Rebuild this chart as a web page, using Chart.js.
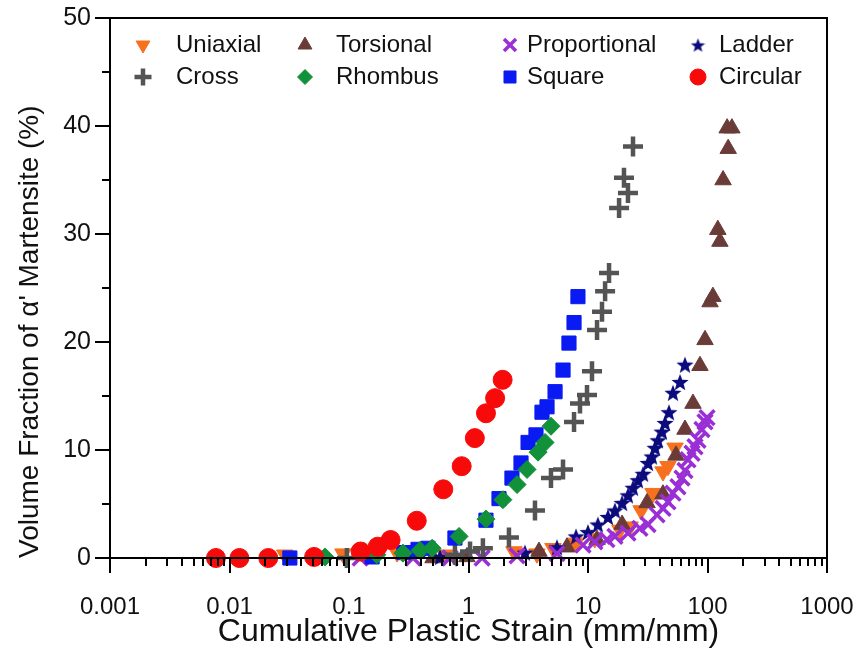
<!DOCTYPE html>
<html><head><meta charset="utf-8">
<script src="https://cdn.jsdelivr.net/npm/chart.js@4.4.1/dist/chart.umd.min.js"></script>
<style>html,body{margin:0;padding:0;background:#fff}#wrap{width:859px;height:653px;position:relative}</style>
</head><body><div id="wrap"><canvas id="c" width="859" height="653"></canvas></div>
<script>
// ---- axis ticks ----
const xMajorTicks = [0.001, 0.01, 0.1, 1, 10, 100, 1000];
const xTickLabels = ['0.001', '0.01', '0.1', '1', '10', '100', '1000'];
const yMajorTicks = [0, 10, 20, 30, 40, 50];
const yTickLabels = ['0', '10', '20', '30', '40', '50'];
const yMinorTicks = [5, 15, 25, 35, 45];
const xMinorMultipliers = [2, 3, 4, 5, 6, 7, 8, 9];

// ---- series ----
const uniaxialX = [0.029, 0.089, 0.252, 0.635, 2.40, 3.74, 5.09, 7.9, 11.4, 18.5, 22.5, 27.8, 35.0, 42.4, 46.7, 53.5];
const uniaxialY = [0.3, 0.4, 0.5, 0.3, 0.6, 0.4, 0.9, 1.4, 1.8, 2.6, 2.9, 4.4, 6.0, 8.0, 8.5, 10.2];

const torsionalX = [0.505, 0.97, 3.89, 6.67, 11.9, 19.3, 31.2, 42.4, 54.5, 64.8, 75.6, 86.5, 95.3, 105, 111, 122, 127, 135, 146, 149, 160];
const torsionalY = [0, 0.1, 0.6, 1.0, 1.7, 3.1, 5.1, 5.9, 9.5, 11.9, 14.3, 17.8, 20.2, 23.7, 24.2, 30.4, 29.3, 35.0, 39.8, 37.9, 39.8];

const proportionalX = [0.124, 0.344, 0.70, 1.30, 2.55, 5.50, 9.08, 11.4, 14.4, 16.8, 21.6, 27.2, 31.8, 37.8, 42.4, 46.7, 51.4, 56.6, 61.2, 64.8, 68.7, 74.2, 78.6, 83.3, 89.9, 95.3, 99.1];
const proportionalY = [0, 0, 0, 0, 0.2, 0.4, 1.2, 1.5, 1.7, 2.0, 2.3, 2.75, 3.1, 4.0, 4.6, 5.2, 6.0, 6.6, 7.4, 8.1, 9.1, 9.7, 10.3, 10.9, 11.9, 12.6, 13.0];

const ladderX = [0.578, 2.97, 5.50, 7.94, 10.0, 12.1, 14.7, 16.8, 19.3, 21.6, 23.8, 26.2, 28.9, 31.8, 34.3, 36.4, 38.5, 41.6, 44.1, 47.6, 51.4, 58.9, 64.8];
const ladderY = [0.1, 0.5, 1.0, 2.0, 2.4, 3.1, 3.8, 4.4, 5.1, 5.8, 6.5, 7.2, 7.8, 8.8, 9.4, 10.2, 10.9, 11.7, 12.5, 13.5, 15.3, 16.3, 17.9];

const crossX = [0.096, 0.77, 1.03, 1.32, 2.18, 3.60, 4.90, 6.18, 7.64, 8.57, 9.81, 10.8, 11.9, 13.1, 13.9, 15.0, 18.2, 20.0, 21.6, 23.8];
const crossY = [0, 0.3, 0.6, 0.9, 1.9, 4.4, 7.4, 8.2, 12.6, 14.3, 15.1, 17.3, 21.1, 22.8, 24.7, 26.4, 32.4, 35.2, 33.8, 38.1];

const rhombusX = [0.063, 0.171, 0.283, 0.393, 0.496, 0.834, 1.40, 1.94, 2.55, 3.09, 3.82, 4.37, 4.90];
const rhombusY = [0.1, 0.3, 0.45, 0.7, 0.9, 2.0, 3.6, 5.4, 6.8, 8.2, 9.8, 10.7, 12.2];

const squareX = [0.032, 0.156, 0.288, 0.378, 0.458, 0.77, 1.40, 1.80, 2.31, 2.75, 3.15, 3.67, 4.12, 4.54, 5.30, 6.18, 6.93, 7.64, 8.24];
const squareY = [0, 0.1, 0.5, 0.8, 0.9, 1.85, 3.5, 5.5, 7.4, 8.8, 10.7, 11.4, 13.5, 14.0, 15.4, 17.4, 19.9, 21.8, 24.2];

const circularX = [0.0077, 0.0121, 0.0211, 0.051, 0.125, 0.174, 0.223, 0.369, 0.615, 0.877, 1.13, 1.40, 1.67, 1.93];
const circularY = [0, 0, 0, 0.1, 0.6, 1.05, 1.67, 3.45, 6.36, 8.5, 11.1, 13.4, 14.8, 16.5];

// ---- helpers ----
function pts(xs, ys) { return xs.map((x, i) => ({ x: x, y: ys[i] })); }

function makeStar(size, color) {
  const c = document.createElement('canvas');
  c.width = size; c.height = size;
  const g = c.getContext('2d');
  const cx = size / 2, cy = size / 2 + size * 0.05, R = size / 2, r = R * 0.42;
  g.beginPath();
  for (let i = 0; i < 10; i++) {
    const a = -Math.PI / 2 + i * Math.PI / 5;
    const rr = i % 2 === 0 ? R : r;
    const px = cx + rr * Math.cos(a), py = cy + rr * Math.sin(a);
    if (i === 0) g.moveTo(px, py); else g.lineTo(px, py);
  }
  g.closePath();
  g.fillStyle = color; g.fill();
  return c;
}

const FONT = "'Liberation Sans', Arial, sans-serif";
const C = {
  uni: '#F7701E', tor: '#6A3B37', pro: '#9A2FD6', lad: '#0B0B7D',
  cro: '#545454', rho: '#11913A', squ: '#0A1AF2', cir: '#F80A0A'
};
const starImg = makeStar(18, C.lad);
const starLegend = makeStar(15, C.lad);

const dsUniaxial = { label: 'Uniaxial', data: pts(uniaxialX, uniaxialY), pointStyle: 'triangle', rotation: 180, radius: 9.5, backgroundColor: C.uni, borderColor: C.uni, borderWidth: 1, order: 8 };
const dsTorsional = { label: 'Torsional', data: pts(torsionalX, torsionalY), pointStyle: 'triangle', rotation: 0, radius: 9.5, backgroundColor: C.tor, borderColor: C.tor, borderWidth: 1, order: 7 };
const dsProportional = { label: 'Proportional', data: pts(proportionalX, proportionalY), pointStyle: 'crossRot', radius: 10.5, backgroundColor: C.pro, borderColor: C.pro, borderWidth: 3.5, order: 5 };
const dsLadder = { label: 'Ladder', data: pts(ladderX, ladderY), pointStyle: starImg, radius: 9, backgroundColor: C.lad, borderColor: C.lad, borderWidth: 1, order: 6 };
const dsCross = { label: 'Cross', data: pts(crossX, crossY), pointStyle: 'cross', radius: 10, backgroundColor: C.cro, borderColor: C.cro, borderWidth: 4.5, order: 4 };
const dsRhombus = { label: 'Rhombus', data: pts(rhombusX, rhombusY), pointStyle: 'rectRot', radius: 9, backgroundColor: C.rho, borderColor: C.rho, borderWidth: 1, order: 2 };
const dsSquare = { label: 'Square', data: pts(squareX, squareY), pointStyle: 'rect', radius: 10, backgroundColor: C.squ, borderColor: C.squ, borderWidth: 1, order: 3 };
const dsCircular = { label: 'Circular', data: pts(circularX, circularY), pointStyle: 'circle', radius: 9.5, backgroundColor: C.cir, borderColor: C.cir, borderWidth: 1, order: 1 };

const datasets = [dsUniaxial, dsTorsional, dsProportional, dsLadder, dsCross, dsRhombus, dsSquare, dsCircular];
datasets.forEach(d => {
  d.clip = false; d.pointRadius = d.radius; d.pointHoverRadius = d.radius;
  d.pointRotation = d.rotation || 0; d.showLine = false;
});

// legend layout: column x of marker, row y
const legendCols = [143, 305, 510, 698];
const legendRows = [45, 77];
const legendTextGap = [33, 31, 17, 21];
const legendMarkerRadius = [8, 8, 8.5, 0, 8.5, 7.5, 8.5, 8];

const framePlugin = {
  id: 'frameTicks',
  afterDraw(chart) {
    const ctx = chart.ctx, a = chart.chartArea;
    const xs = chart.scales.x, ys = chart.scales.y;
    ctx.save();
    ctx.strokeStyle = '#000';
    ctx.lineWidth = 2;
    ctx.strokeRect(a.left, a.top, a.right - a.left, a.bottom - a.top);
    ctx.beginPath();
    xMajorTicks.forEach(v => { const p = Math.round(xs.getPixelForValue(v)); ctx.moveTo(p, a.bottom); ctx.lineTo(p, a.bottom + 15); });
    for (let i = 0; i < xMajorTicks.length - 1; i++) {
      xMinorMultipliers.forEach(m => { const p = Math.round(xs.getPixelForValue(xMajorTicks[i] * m)); ctx.moveTo(p, a.bottom); ctx.lineTo(p, a.bottom + 8); });
    }
    yMajorTicks.forEach(v => { const p = Math.round(ys.getPixelForValue(v)); ctx.moveTo(a.left, p); ctx.lineTo(a.left - 15, p); });
    yMinorTicks.forEach(v => { const p = Math.round(ys.getPixelForValue(v)); ctx.moveTo(a.left, p); ctx.lineTo(a.left - 8, p); });
    ctx.stroke();

    // legend
    datasets.forEach((d, i) => {
      const col = i % 4, row = Math.floor(i / 4);
      const x = legendCols[col], y = legendRows[row];
      ctx.fillStyle = d.backgroundColor; ctx.strokeStyle = d.borderColor; ctx.lineWidth = d.borderWidth || 1;
      if (d.pointStyle === starImg) {
        ctx.drawImage(starLegend, x - starLegend.width / 2, y - starLegend.height / 2);
      } else {
        Chart.helpers.drawPoint(ctx, { pointStyle: d.pointStyle, rotation: d.rotation || 0, radius: legendMarkerRadius[i], borderWidth: d.borderWidth || 1 }, x, y);
      }
      ctx.fillStyle = '#111';
      ctx.font = '24px ' + FONT;
      ctx.textBaseline = 'middle';
      ctx.textAlign = 'left';
      ctx.fillText(d.label, x + legendTextGap[col], y);
    });
    ctx.restore();
  }
};

new Chart(document.getElementById('c'), {
  type: 'scatter',
  data: { datasets: datasets },
  plugins: [framePlugin],
  options: {
    responsive: false,
    animation: false,
    devicePixelRatio: 1,
    layout: { padding: { left: 13, right: 32, top: 18, bottom: 2 } },
    plugins: { legend: { display: false }, tooltip: { enabled: false } },
    scales: {
      x: {
        type: 'logarithmic', min: 0.001, max: 1000,
        afterBuildTicks: s => { s.ticks = xMajorTicks.map(v => ({ value: v, major: true })); },
        afterFit: s => { s.height = 653 - 558 - 2; s.paddingLeft = 0; s.paddingRight = 0; },
        grid: { display: false, drawTicks: true, tickLength: 15 },
        border: { display: false },
        ticks: { autoSkip: false, maxRotation: 0, padding: 20, color: '#111', font: { family: FONT, size: 24 },
          callback: (v) => xTickLabels[xMajorTicks.indexOf(v)] ?? '' },
        title: { display: true, text: 'Cumulative Plastic Strain (mm/mm)', color: '#111', font: { family: FONT, size: 32 }, padding: 0 }
      },
      y: {
        type: 'linear', min: 0, max: 50,
        afterBuildTicks: s => { s.ticks = yMajorTicks.map(v => ({ value: v })); },
        afterFit: s => { s.width = 110 - 13; s.paddingTop = 0; s.paddingBottom = 0; },
        grid: { display: false, drawTicks: true, tickLength: 15 },
        border: { display: false },
        ticks: { autoSkip: false, padding: 4, color: '#111', font: { family: FONT, size: 25 },
          callback: (v) => yTickLabels[yMajorTicks.indexOf(v)] ?? '' },
        title: { display: true, align: 'start', text: "Volume Fraction of α' Martensite (%)", color: '#111', font: { family: FONT, size: 28 }, padding: 0 }
      }
    }
  }
});
</script></body></html>
